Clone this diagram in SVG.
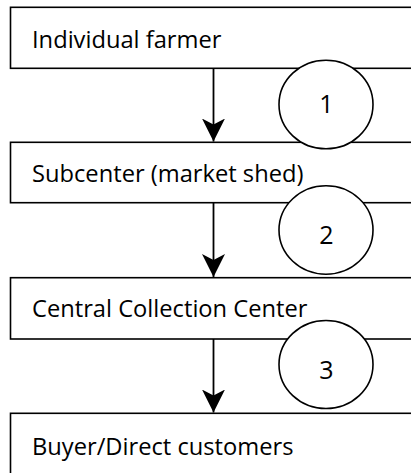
<svg xmlns="http://www.w3.org/2000/svg" width="411" height="473" viewBox="0 0 411 473">
  <defs>
    <style>
      .box { fill: #ffffff; stroke: #000000; stroke-width: 1.6; }
      .lbl { font-family: "Open Sans", "Noto Sans", "Liberation Sans", sans-serif; font-size: 23.7px; fill: #000000; }
      .num { font-family: "Open Sans", "Noto Sans", "Liberation Sans", sans-serif; font-size: 25px; fill: #000000; text-anchor: middle; }
      .circ { fill: #ffffff; stroke: #000000; stroke-width: 1.6; }
      .conn { stroke: #000000; stroke-width: 1.8; fill: none; }
    </style>
    <marker id="arrow" markerUnits="userSpaceOnUse" markerWidth="24" markerHeight="24" refX="23" refY="12" orient="auto" viewBox="0 0 24 24">
      <path d="M23 12 L0 0.5 L6 12 L0 23.5 Z" fill="#000000"/>
    </marker>
  </defs>
  <g id="node-farmer">
    <rect class="box" x="10.5" y="7.3" width="420" height="61"/>
    <text class="lbl" x="32" y="48">Individual farmer</text>
  </g>
  <g id="node-subcenter">
    <rect class="box" x="10.5" y="142.3" width="420" height="60.4"/>
    <text class="lbl" x="32" y="182">Subcenter (market shed)</text>
  </g>
  <g id="node-central">
    <rect class="box" x="10.5" y="277.7" width="420" height="61.3"/>
    <text class="lbl" x="32" y="317">Central Collection Center</text>
  </g>
  <g id="node-buyer">
    <rect class="box" x="10.5" y="413.3" width="420" height="80"/>
    <text class="lbl" x="32" y="455">Buyer/Direct customers</text>
  </g>
  <g id="connectors">
    <line class="conn" x1="213.5" y1="68.3" x2="213.5" y2="141.5" marker-end="url(#arrow)"/>
    <line class="conn" x1="213.5" y1="202.7" x2="213.5" y2="277" marker-end="url(#arrow)"/>
    <line class="conn" x1="213.5" y1="339" x2="213.5" y2="412.5" marker-end="url(#arrow)"/>
  </g>
  <g id="step-1">
    <ellipse class="circ" cx="326" cy="104.5" rx="47" ry="44.3"/>
    <text class="num" x="326.5" y="113.3">1</text>
  </g>
  <g id="step-2">
    <ellipse class="circ" cx="326" cy="230" rx="47" ry="44.2"/>
    <text class="num" x="326.5" y="244.3">2</text>
  </g>
  <g id="step-3">
    <ellipse class="circ" cx="326" cy="364.5" rx="47" ry="44"/>
    <text class="num" x="326.5" y="379.3">3</text>
  </g>
</svg>
